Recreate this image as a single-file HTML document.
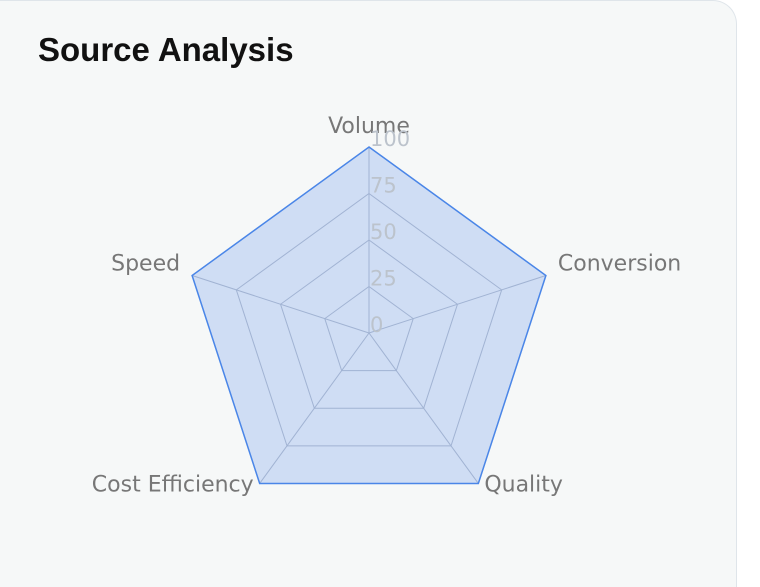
<!DOCTYPE html>
<html><head><meta charset="utf-8"><style>
html,body{margin:0;width:760px;height:587px;overflow:hidden;}
body{position:relative;background:#fff;font-family:"Liberation Sans",sans-serif;}
.card{position:absolute;left:0;top:0;width:737px;height:587px;box-sizing:border-box;background:#f6f8f8;border:1px solid #dfe5ea;border-left:none;border-bottom:none;border-radius:0 24px 0 0;}
h1{position:absolute;left:38px;top:31px;margin:0;font-size:33px;font-weight:bold;color:#111;font-family:"Liberation Sans",sans-serif;}
</style></head><body>
<div class="card"></div>
<h1>Source Analysis</h1>
<svg id="chart" width="760" height="587" style="position:absolute;left:0;top:0"></svg>
<script>
const axes=["Volume","Conversion","Quality","Cost Efficiency","Speed"];
const values=[100,100,100,100,100];
const ticks=[0,25,50,75,100];
const maxV=100;
const cx=369,cy=333,R=186,NS="http://www.w3.org/2000/svg";
const svg=document.getElementById('chart');
function pt(i,v){const a=-Math.PI/2+i*2*Math.PI/axes.length;const r=v/maxV*R;return [cx+r*Math.cos(a),cy+r*Math.sin(a)];}
function mk(t,attrs){const e=document.createElementNS(NS,t);for(const k in attrs)e.setAttribute(k,attrs[k]);svg.appendChild(e);return e;}
const font='"DejaVu Sans","Liberation Sans",sans-serif';
ticks.forEach(t=>{if(t===0)return;const p=axes.map((_,i)=>pt(i,t).join(',')).join(' ');
const g=mk('polygon',{points:p,fill:'none',stroke:'#b8c0cc','stroke-width':1});

});
axes.forEach((_,i)=>{const [x,y]=pt(i,maxV);const l=mk('line',{x1:cx,y1:cy,x2:x,y2:y,stroke:'#b8c0cc','stroke-width':1});

});
const poly=mk('polygon',{points:values.map((v,i)=>pt(i,v).join(',')).join(' '),fill:'rgba(90,140,230,0.25)',stroke:'#4a86e8','stroke-width':1.5,'stroke-linejoin':'miter'});


axes.forEach((name,i)=>{const [x,y]=pt(i,maxV*1.0);let tx=x,ty=y,anchor='middle';
if(i===0){ty=y-20;}else if(i===1){tx=x+12;anchor='start';ty=y-11;}else if(i===4){tx=x-12;anchor='end';ty=y-11;}else if(i===2){tx=x+6;anchor='start';ty=y+2;}else{tx=x-6;anchor='end';ty=y+2;}
const t=mk('text',{x:tx,y:ty,'text-anchor':anchor,'font-size':22,fill:'#777','font-family':font,'dominant-baseline':'middle'});t.textContent=name;

});
ticks.forEach(t=>{const y=cy-t/maxV*R;const e=mk('text',{x:370,y:y-1,'font-size':21,fill:'#bcc3cc','font-family':font});e.textContent=t;

});
</script>
</body></html>
